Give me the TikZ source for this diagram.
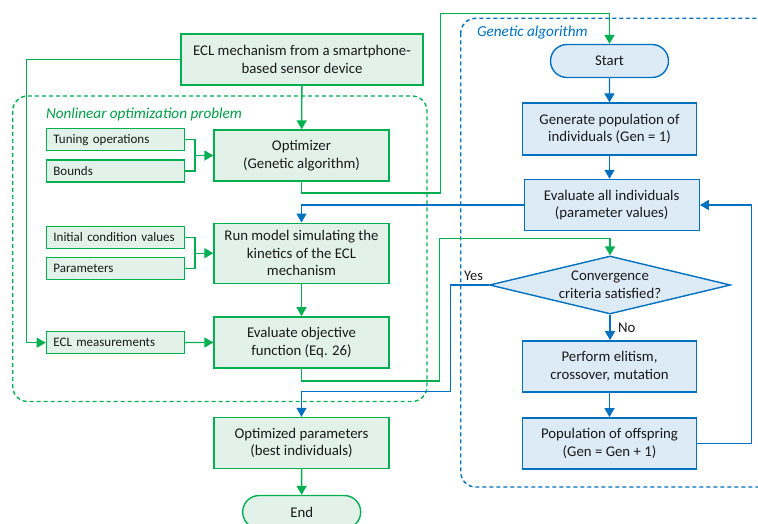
\documentclass[tikz,border=0pt]{standalone}
\usepackage{fontspec}
\setmainfont{Carlito}
\usetikzlibrary{arrows.meta,shapes.geometric,shapes.misc}
\definecolor{gline}{HTML}{00B050}
\definecolor{gfill}{HTML}{E2F2E8}
\definecolor{bline}{HTML}{0070C0}
\definecolor{bfill}{HTML}{DDEBF7}
\definecolor{txt}{HTML}{1A1A1A}

\begin{document}
\begin{tikzpicture}[x=1pt, y=-1pt, line width=1.4pt, >={Triangle[length=9pt, width=10pt]},
    main/.style = {draw=gline, fill=gfill, text=txt, align=center, inner sep=0pt, minimum width=175pt, minimum height=51pt, font=\fontsize{14.8}{17.7}\selectfont},
    side/.style = {draw=gline, fill=gfill, text=txt, anchor=west, text width=124pt, align=left, inner xsep=7pt, inner ysep=0pt, minimum height=22pt, font=\fontsize{13}{15}\selectfont},
    ga/.style = {main, draw=bline, fill=bfill},
    term/.style = {rounded rectangle, text=txt, minimum width=118pt, minimum height=33pt, inner sep=0pt, font=\fontsize{14.8}{17.7}\selectfont},
    cond/.style = {diamond, draw=bline, fill=bfill, minimum width=241pt, minimum height=58pt, inner sep=0pt},
    title/.style = {anchor=west, font=\itshape\fontsize{15.2}{17}\selectfont}]

    \useasboundingbox (0,0) rectangle (758,524);

    \draw[gline, dashed, dash pattern=on 4pt off 3pt, rounded corners=15pt] (12.7,96) rectangle (427,401.5);
    \draw[bline, dashed, dash pattern=on 4pt off 3pt, rounded corners=15pt] (460.7,18.3) rectangle (780,487);
    \node[title, text=gline!90!black] (t1) at (42,114) {Nonlinear optimization problem};
    \node[title, text=bline] (t2) at (473,32.7) {Genetic algorithm};

    \node[main, minimum width=242pt] (1) at (302,59.5) {ECL mechanism from a smartphone-\\based sensor device};
    \node[side] (2) at (45.7,139.7) {Tuning operations};
    \node[side] (3) at (45.7,171) {Bounds};
    \node[main] (4) at (301.5,155.5) {Optimizer\\(Genetic algorithm)};
    \node[side] (5) at (45.7,237.5) {Initial condition values};
    \node[side] (6) at (45.7,268.7) {Parameters};
    \node[main, minimum height=60pt] (7) at (301.5,253.2) {Run model simulating the\\kinetics of the ECL\\mechanism};
    \node[side] (8) at (45.7,342.7) {ECL measurements};
    \node[main] (9) at (301.5,342.3) {Evaluate objective\\function (Eq. 26)};
    \node[main] (10) at (301.5,443) {Optimized parameters\\(best individuals)};
    \node[term, draw=gline, fill=gfill] (11) at (301.7,512) {End};
    \node[term, draw=bline, fill=bfill] (12) at (609.5,61) {Start};
    \node[ga, minimum width=174pt, minimum height=52pt] (13) at (609.5,129) {Generate population of\\individuals (Gen = 1)};
    \node[ga] (14) at (611.7,205) {Evaluate all individuals\\(parameter values)};
    \node[cond, label={[text=txt, align=center, font=\fontsize{14.8}{17.7}\selectfont]center:Convergence\\criteria satisfied?}] (15) at (610,285) {};
    \node[ga, minimum width=174pt] (16) at (609.5,366.3) {Perform elitism,\\crossover, mutation};
    \node[ga, minimum width=174pt] (17) at (609.5,443.3) {Population of offspring\\(Gen = Gen + 1)};

    \coordinate (m1) at (195,155.5);
    \coordinate (m2) at (195,253.2);

    \draw[gline, ->] (1) -- (4);
    \draw[gline, ->] (1.west) -- ++(-154,0) |- (8.west);
    \draw[gline] (2.east) -| (m1);
    \draw[gline] (3.east) -| (m1);
    \draw[gline, ->] (m1) -- (4.west);
    \draw[gline] (5.east) -| (m2);
    \draw[gline] (6.east) -| (m2);
    \draw[gline, ->] (m2) -- (7.west);
    \draw[gline, ->] (7) -- (9);
    \draw[gline, ->] (8) -- (9);
    \draw[gline, ->] (4.south) -- ++(0,11.5) -| (440.7,13.3) -| (12.north);
    \draw[gline, ->] (9.south) -- ++(0,12.5) -| (439.3,238.3) -| (15.north);
    \draw[gline, ->] (10) -- (11);

    \draw[bline, ->] (12) -- (13);
    \draw[bline, ->] (13) -- (13 |- 14.north);
    \draw[bline, ->] (14.west) -| (7.north);
    \draw[bline, ->] (15.west) -- node[above, text=txt, font=\fontsize{14.5}{17}\selectfont, xshift=4pt] {Yes} ++(-38.6,0) -- ++(0,106.3) -| (10.north);
    \draw[bline, ->] (15.south) -- node[right, text=txt, font=\fontsize{14.8}{17}\selectfont, xshift=4pt] {No} (15.south |- 16.north);
    \draw[bline, ->] (16) -- (17);
    \draw[bline, ->] (17.east) -- ++(54,0) |- (14.east);

\end{tikzpicture}
\end{document}
